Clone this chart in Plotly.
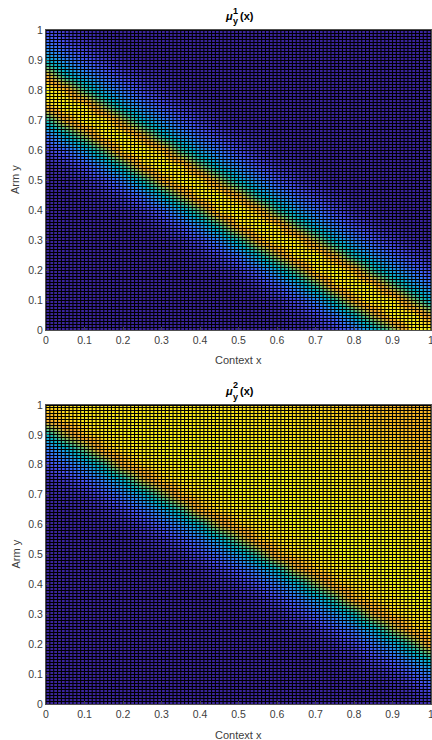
import numpy as np
import plotly.graph_objects as go

# x and y sample positions, and the level (0-100) at each, rows from y=1 down to y=0
x_samples = [0,.05,.1,.15,.2,.25,.3,.35,.4,.45,.5,.55,.6,.65,.7,.75,.8,.85,.9,.95,1]
y_samples = [1,.95,.9,.85,.8,.75,.7,.65,.6,.55,.5,.45,.4,.35,.3,.25,.2,.15,.1,.05,0]
tick_vals = [0,.1,.2,.3,.4,.5,.6,.7,.8,.9,1]
tick_text = ["0","0.1","0.2","0.3","0.4","0.5","0.6","0.7","0.8","0.9","1"]

mu1 = [
[8,4,1,0,0,0,0,0,0,0,0,0,0,0,0,0,0,0,0,0,0],
[20,10,5,2,0,0,0,0,0,0,0,0,0,0,0,0,0,0,0,0,0],
[38,24,12,6,2,0,0,0,0,0,0,0,0,0,0,0,0,0,0,0,0],
[80,43,26,15,7,3,1,0,0,0,0,0,0,0,0,0,0,0,0,0,0],
[100,88,51,29,18,8,4,1,0,0,0,0,0,0,0,0,0,0,0,0,0],
[88,100,93,60,33,20,10,5,2,0,0,0,0,0,0,0,0,0,0,0,0],
[45,80,98,97,69,38,24,12,6,2,0,0,0,0,0,0,0,0,0,0,0],
[17,39,68,97,98,78,43,26,14,7,3,1,0,0,0,0,0,0,0,0,0],
[5,14,32,60,94,100,87,50,29,18,8,4,1,0,0,0,0,0,0,0,0],
[1,4,11,27,52,88,100,92,59,33,20,9,4,2,0,0,0,0,0,0,0],
[0,1,3,9,22,46,82,99,96,68,37,23,11,5,2,0,0,0,0,0,0],
[0,0,1,3,7,18,40,70,97,98,78,42,26,14,7,3,0,0,0,0,0],
[0,0,0,1,2,5,14,33,60,95,100,86,50,29,17,8,3,1,0,0,0],
[0,0,0,0,0,1,4,12,27,52,90,100,92,58,32,19,9,4,1,0,0],
[0,0,0,0,0,0,1,3,9,23,47,83,99,96,67,37,22,11,5,2,0],
[0,0,0,0,0,0,0,1,3,7,18,41,71,97,98,76,41,26,14,7,3],
[0,0,0,0,0,0,0,0,1,2,5,15,34,60,94,100,86,49,29,17,8],
[0,0,0,0,0,0,0,0,0,0,1,4,12,28,54,90,100,92,58,32,19],
[0,0,0,0,0,0,0,0,0,0,0,1,3,9,23,48,84,99,96,65,36],
[0,0,0,0,0,0,0,0,0,0,0,0,1,3,7,19,41,72,97,98,75],
[0,0,0,0,0,0,0,0,0,0,0,0,0,1,2,5,15,35,60,95,100],
]

mu2 = [
[91,91,92,92,92,92,93,93,93,92,92,91,91,90,90,89,88,87,86,85,85],
[82,90,93,94,94,95,95,95,95,94,94,93,93,92,91,90,89,88,87,86,86],
[38,70,89,93,95,96,96,96,96,96,95,95,94,93,92,91,90,89,88,87,86],
[18,33,58,86,92,94,96,97,97,97,96,96,95,95,94,93,92,91,90,88,87],
[7,15,28,48,82,91,94,96,97,98,98,97,97,96,95,94,93,92,91,90,89],
[2,5,12,23,40,71,89,93,95,97,98,98,98,97,96,95,94,93,92,91,90],
[0,2,3,9,19,34,60,87,92,94,97,98,99,98,97,96,95,95,94,92,91],
[0,0,1,3,7,16,29,50,84,91,94,97,98,99,98,97,97,96,95,93,92],
[0,0,0,1,2,5,13,24,41,73,89,93,95,98,99,99,98,97,96,95,94],
[0,0,0,0,0,2,4,10,19,35,62,87,92,94,97,99,99,98,97,96,95],
[0,0,0,0,0,0,1,3,8,16,30,52,85,91,94,97,99,99,98,97,96],
[0,0,0,0,0,0,0,1,2,6,13,25,42,75,89,93,95,98,99,98,97],
[0,0,0,0,0,0,0,0,0,2,4,10,20,36,64,87,92,94,97,99,98],
[0,0,0,0,0,0,0,0,0,0,1,3,8,17,31,53,85,91,94,97,99],
[0,0,0,0,0,0,0,0,0,0,0,1,2,6,14,26,43,77,90,93,95],
[0,0,0,0,0,0,0,0,0,0,0,0,1,2,4,11,20,37,66,88,92],
[0,0,0,0,0,0,0,0,0,0,0,0,0,0,1,3,8,17,32,54,86],
[0,0,0,0,0,0,0,0,0,0,0,0,0,0,0,1,2,7,14,27,45],
[0,0,0,0,0,0,0,0,0,0,0,0,0,0,0,0,1,2,4,11,21],
[0,0,0,0,0,0,0,0,0,0,0,0,0,0,0,0,0,0,1,3,9],
[0,0,0,0,0,0,0,0,0,0,0,0,0,0,0,0,0,0,0,1,2],
]

parula = [
[0.0,"rgb(58,36,156)"],[0.1,"rgb(71,80,240)"],[0.2,"rgb(51,122,252)"],
[0.3,"rgb(31,158,230)"],[0.4,"rgb(3,178,201)"],[0.5,"rgb(51,189,160)"],
[0.6,"rgb(122,191,105)"],[0.7,"rgb(194,186,64)"],[0.8,"rgb(240,165,45)"],
[0.87,"rgb(250,190,35)"],[0.92,"rgb(252,228,28)"],[1.0,"rgb(249,251,21)"],
]

W, H = 432, 740
L, R = 46, 431
TEXT = "#404040"
panels = [(30, 330, mu1, "1", 360), (405, 704, mu2, "2", 735)]

fig = go.Figure()
grid = np.linspace(0, 1, 101)
across_x, across_y, down_x, down_y = [], [], [], []
for g in grid:
    across_x += [0, 1, None]
    across_y += [g, g, None]
    down_x += [g, g, None]
    down_y += [0, 1, None]

axis_style = dict(range=[0, 1], tickmode="array", tickvals=tick_vals, ticktext=tick_text,
                  showgrid=False, zeroline=False, ticks="inside", ticklen=3, tickwidth=1,
                  tickcolor=TEXT, showline=True, mirror=True, linecolor="#505050",
                  linewidth=1, tickfont=dict(size=10.5, color=TEXT), automargin=False,
                  ticklabeloverflow="allow")


def label(text, px, py, size=11, color="black", angle=0):
    fig.add_annotation(xref="paper", yref="paper", x=px / W, y=1 - py / H, text=text,
                       showarrow=False, font=dict(size=size, color=color), textangle=angle,
                       xanchor="center", yanchor="middle", borderpad=0, borderwidth=0)


for i, (top, bottom, z, sup, xlab_y) in enumerate(panels, start=1):
    xa, ya = ("x", "y") if i == 1 else ("x2", "y2")
    fig.add_trace(go.Heatmap(x=x_samples, y=y_samples, z=z, zmin=0, zmax=100, zsmooth="best",
                             colorscale=parula, showscale=False, xaxis=xa, yaxis=ya,
                             hoverinfo="skip"))
    fig.add_trace(go.Scatter(x=across_x, y=across_y, mode="lines", xaxis=xa, yaxis=ya,
                             line=dict(color="black", width=1), hoverinfo="skip",
                             showlegend=False))
    fig.add_trace(go.Scatter(x=down_x, y=down_y, mode="lines", xaxis=xa, yaxis=ya,
                             line=dict(color="black", width=1.1), hoverinfo="skip",
                             showlegend=False))
    suffix = "" if i == 1 else "2"
    fig.update_layout(**{
        f"xaxis{suffix}": dict(axis_style, domain=[L / W, R / W], anchor=ya),
        f"yaxis{suffix}": dict(axis_style, domain=[1 - bottom / H, 1 - top / H], anchor=xa),
    })
    label("Context x", 239, xlab_y, color=TEXT)
    label("Arm y", 15, (top + bottom) / 2, color=TEXT, angle=-90)
    label("<b><i>μ</i></b>", 228.5, top - 14)
    label(f"<b>{sup}</b>", 235.5, top - 19.5, size=9)
    label("<b>y</b>", 235.5, top - 8.5, size=9)
    label("<b>(x)</b>", 247, top - 14)

fig.update_layout(width=W, height=H, autosize=False, margin=dict(l=0, r=0, t=0, b=0),
                  paper_bgcolor="white", plot_bgcolor="white", showlegend=False,
                  font=dict(family="Liberation Sans, Arial, sans-serif"))
fig.write_html("out.html", config={"displayModeBar": False},
               post_script="document.body.style.margin='0';"
                           "document.querySelectorAll('.scatterlayer .trace:first-child path')"
                           ".forEach(p=>p.style.shapeRendering='crispEdges');")
